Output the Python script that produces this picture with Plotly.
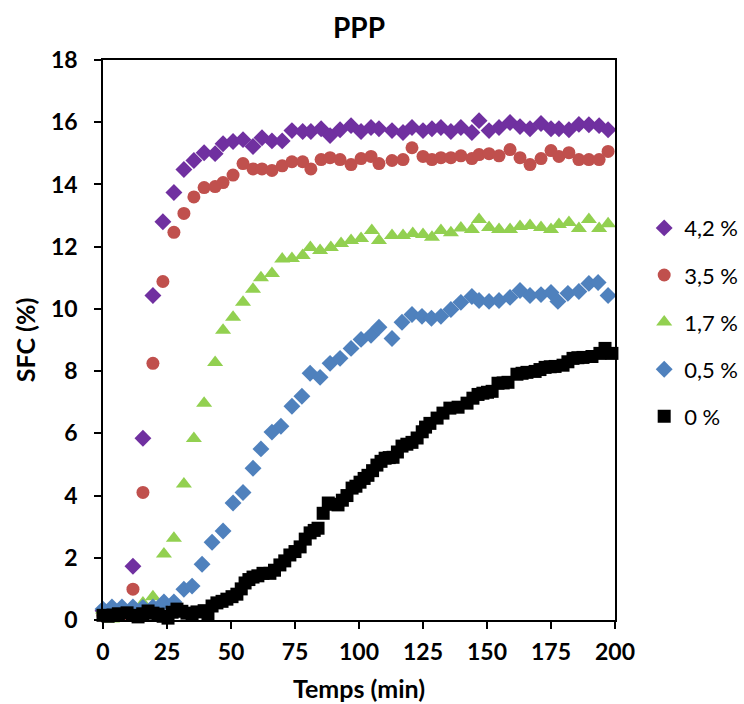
import plotly.graph_objects as go

# ---- data ----
x42 = [0, 3.9, 7.8, 11.7, 15.6, 19.5, 23.4, 27.7, 31.6, 35.5, 39.5, 43.8, 46.9, 50.8, 54.7, 58.6, 62.1, 66, 70, 73.8, 78, 81.2, 85.2, 88.7, 92.6, 96.9, 100.8, 104.7, 107.8, 112.9, 117.2, 120.7, 125, 128.5, 132, 135.9, 139.8, 144.1, 146.9, 150.8, 154.7, 159, 162.9, 166.8, 171.1, 175, 178.1, 182, 185.9, 189.8, 193.8, 197.3]
y42 = [0.3, 0.3, 0.35, 1.73, 5.84, 10.43, 12.8, 13.74, 14.48, 14.77, 15.02, 14.99, 15.31, 15.38, 15.44, 15.22, 15.5, 15.4, 15.4, 15.73, 15.7, 15.7, 15.79, 15.57, 15.76, 15.89, 15.7, 15.83, 15.79, 15.73, 15.67, 15.83, 15.73, 15.79, 15.83, 15.7, 15.83, 15.67, 16.05, 15.73, 15.83, 15.99, 15.86, 15.79, 15.96, 15.79, 15.79, 15.76, 15.93, 15.92, 15.89, 15.76]

x35 = [0, 3.9, 7.8, 11.7, 15.6, 19.5, 23.4, 27.7, 31.6, 35.5, 39.5, 43.8, 46.9, 50.8, 54.7, 58.6, 62.1, 66, 70, 73.8, 78, 81.2, 85.2, 88.7, 92.6, 96.9, 100.8, 104.7, 107.8, 112.9, 117.2, 120.7, 125, 128.5, 132, 135.9, 139.8, 144.1, 146.9, 150.8, 154.7, 159, 162.9, 166.8, 171.1, 175, 178.1, 182, 185.9, 189.8, 193.8, 197.3]
y35 = [0.15, 0.2, 0.2, 0.99, 4.1, 8.25, 10.88, 12.46, 13.07, 13.6, 13.9, 13.93, 14.06, 14.3, 14.67, 14.5, 14.5, 14.45, 14.6, 14.73, 14.73, 14.5, 14.8, 14.86, 14.8, 14.64, 14.83, 14.9, 14.67, 14.77, 14.8, 15.18, 14.9, 14.8, 14.86, 14.86, 14.92, 14.83, 14.96, 14.99, 14.92, 15.12, 14.86, 14.64, 14.83, 15.09, 14.9, 15.02, 14.8, 14.8, 14.8, 15.06]

x17 = [0, 3.5, 7.8, 11.7, 15.6, 19.5, 23.8, 27.7, 31.6, 35.5, 39.5, 43.8, 46.9, 50.8, 54.7, 58.6, 61.7, 66, 70, 73.8, 78, 81, 84.8, 89, 93, 96.9, 100.8, 105, 107.8, 112.9, 117.2, 121, 125, 128.5, 132, 135.9, 139.8, 144.1, 146.9, 150.8, 154.7, 159, 162.9, 166.8, 171.1, 175, 178.1, 182, 185.9, 189.8, 193.8, 197.3]
y17 = [0.32, 0.03, 0.15, 0.3, 0.55, 0.75, 2.12, 2.63, 4.37, 5.83, 6.97, 8.28, 9.31, 9.73, 10.21, 10.63, 11.0, 11.14, 11.6, 11.62, 11.72, 11.97, 11.88, 11.97, 12.1, 12.2, 12.26, 12.52, 12.2, 12.36, 12.36, 12.42, 12.39, 12.3, 12.52, 12.45, 12.6, 12.55, 12.87, 12.62, 12.55, 12.55, 12.65, 12.68, 12.62, 12.55, 12.71, 12.78, 12.58, 12.87, 12.58, 12.74]

x05 = [0, 3.5, 7.4, 11.7, 15.6, 19.5, 23.8, 27.7, 31.6, 34.8, 38.7, 42.6, 46.9, 50.8, 54.7, 58.6, 61.7, 66, 69.5, 73.8, 77.7, 80.9, 84.8, 88.7, 92.6, 96.9, 100.8, 104.7, 107.8, 112.9, 116.8, 120.7, 124.6, 128.3, 132, 135.9, 139.8, 144.1, 146.9, 150.8, 154.7, 159, 162.9, 166.8, 171.1, 175, 177.7, 181.6, 185.9, 189.8, 193.4, 197.3]
y05 = [0.35, 0.42, 0.42, 0.42, 0.4, 0.42, 0.58, 0.58, 0.99, 1.09, 1.79, 2.5, 2.86, 3.76, 4.1, 4.88, 5.5, 6.04, 6.23, 6.87, 7.19, 7.93, 7.8, 8.25, 8.41, 8.73, 9.02, 9.15, 9.41, 9.05, 9.57, 9.82, 9.76, 9.7, 9.76, 9.98, 10.21, 10.4, 10.27, 10.24, 10.27, 10.37, 10.59, 10.43, 10.46, 10.53, 10.24, 10.5, 10.56, 10.82, 10.85, 10.43]

x0 = [0, 2, 3.9, 6, 9.4, 11.5, 13.7, 15.5, 17.6, 19.5, 21.5, 23.5, 25.4, 27, 28.9, 30.8, 32.8, 34.8, 36.7, 39.5, 41, 42.6, 44.5, 46.5, 48.4, 50.4, 52.3, 54, 55.5, 57, 58.6, 60.5, 62.5, 65.2, 67, 69.1, 71, 73, 75, 77, 79, 80.9, 82.5, 84, 86, 88, 90, 91.8, 93.5, 95.3, 97.3, 98.8, 100.4, 102, 103.5, 105.3, 107, 108.6, 110.2, 111.8, 113.3, 115, 116.8, 118.7, 120.7, 122.7, 124.7, 126, 127.7, 130.5, 132.8, 135.5, 138.7, 142.2, 144.5, 146.5, 148.4, 150.2, 152, 154.3, 156.3, 158.2, 161.7, 163.7, 165.6, 168.8, 170.7, 172.7, 174.7, 176.6, 179.7, 181.6, 183.6, 185.5, 187.5, 191, 194.1, 196.1, 198.8]
y0 = [0.15, 0.12, 0.16, 0.2, 0.23, 0.15, 0.1, 0.2, 0.29, 0.22, 0.19, 0.12, 0.06, 0.25, 0.35, 0.28, 0.22, 0.2, 0.26, 0.3, 0.2, 0.45, 0.55, 0.6, 0.67, 0.75, 0.83, 1.0, 1.19, 1.3, 1.38, 1.42, 1.5, 1.5, 1.6, 1.77, 1.9, 2.09, 2.2, 2.35, 2.6, 2.8, 2.88, 2.95, 3.43, 3.76, 3.72, 3.7, 3.85, 4.0, 4.24, 4.3, 4.43, 4.55, 4.65, 4.8, 4.98, 5.1, 5.2, 5.22, 5.23, 5.4, 5.59, 5.65, 5.71, 5.85, 6.05, 6.2, 6.32, 6.49, 6.65, 6.81, 6.84, 6.97, 7.13, 7.25, 7.29, 7.32, 7.35, 7.61, 7.62, 7.64, 7.9, 7.93, 7.96, 7.99, 8.05, 8.12, 8.14, 8.15, 8.19, 8.3, 8.41, 8.43, 8.44, 8.47, 8.57, 8.73, 8.57]

names = ["4,2 %", "3,5 %", "1,7 %", "0,5 %", "0 %"]
xs = [x42, x35, x17, x05, x0]
ys = [y42, y35, y17, y05, y0]
colors = ["#7030A0", "#C0504D", "#92D050", "#4F81BD", "#000000"]
symbols = ["diamond", "circle", "triangle-up", "diamond", "square"]
sizes = [13, 13, 14, 13, 13]

fig = go.Figure()
for i in range(5):
    fig.add_trace(go.Scatter(
        x=xs[i], y=ys[i], mode="markers", name=names[i], legendgroup=names[i],
        marker=dict(color=colors[i], symbol=symbols[i], size=sizes[i], line=dict(width=0)),
        cliponaxis=False,
    ))

font_main = "Lato, 'Open Sans', sans-serif"
fig.update_layout(
    width=744, height=704,
    margin=dict(l=103, r=129, t=60, b=84, autoexpand=False),
    paper_bgcolor="white", plot_bgcolor="white",
    font=dict(family=font_main, color="black", size=22),
    title=dict(text="<b>PPP</b>", x=0.5, xanchor="center", xref="paper", y=0.96, yanchor="middle",
               font=dict(size=28, family=font_main, color="black")),
    legend=dict(x=1.057, xanchor="left", y=0.532, yanchor="middle", traceorder="grouped",
                font=dict(size=22, family=font_main, color="black"),
                tracegroupgap=15.5, itemwidth=30, bgcolor="rgba(0,0,0,0)"),
    showlegend=True,
)
fig.update_xaxes(
    range=[0, 200], tick0=0, dtick=25, ticks="outside", ticklen=7, tickcolor="black", tickwidth=1.5,
    showline=True, linecolor="black", linewidth=1.5, mirror=True, showgrid=False, zeroline=False,
    automargin=False,
    tickfont=dict(size=23, family=font_main, color="black"), ticklabelstandoff=4,
    title=dict(text="<b>Temps (min)</b>", font=dict(size=25, family=font_main), standoff=16),
    tickprefix="<b>", ticksuffix="</b>",
)
fig.update_yaxes(
    range=[0, 18], tick0=0, dtick=2, ticks="outside", ticklen=7, tickcolor="black", tickwidth=1.5,
    showline=True, linecolor="black", linewidth=1.5, mirror=True, showgrid=False, zeroline=False,
    automargin=False,
    tickfont=dict(size=23, family=font_main, color="black"), ticklabelstandoff=12,
    title=dict(text="<b>SFC (%)</b>", font=dict(size=25, family=font_main), standoff=8),
    tickprefix="<b>", ticksuffix="</b>",
)
fig.write_html("out.html", config={"displayModeBar": False},
               post_script="document.body.style.margin='0';document.body.style.padding='0';")
